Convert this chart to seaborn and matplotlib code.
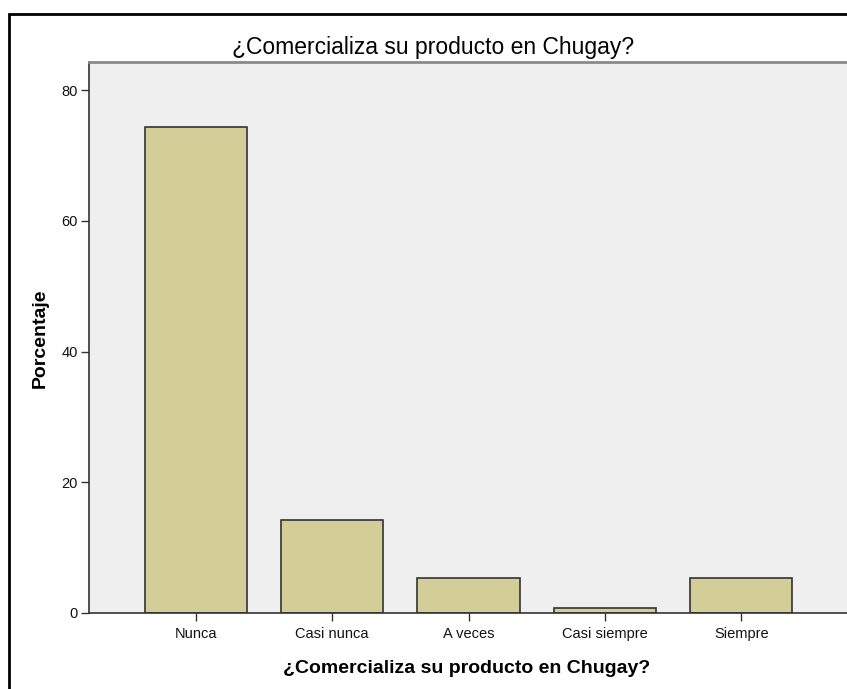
import pandas as pd
import matplotlib
matplotlib.use("Agg")
import matplotlib.pyplot as plt
import matplotlib.patches as mpatches
import seaborn as sns

# datos (porcentaje, n=133)
categorias = ["Nunca", "Casi nunca", "A veces", "Casi siempre", "Siempre"]
porcentajes = [74.4, 14.3, 5.3, 0.8, 5.3]
titulo = "¿Comercializa su producto en Chugay?"

df = pd.DataFrame({"categoria": categorias, "porcentaje": porcentajes})

sns.set_style("white")
plt.rcParams["font.family"] = ["Liberation Sans", "DejaVu Sans"]

W, H = 847, 689
fig = plt.figure(figsize=(W / 100, H / 100), dpi=100)
ax = fig.add_axes([89 / W, 1 - 613 / H, (849 - 89) / W, (613 - 62) / H])
ax.set_facecolor("#EFEFEF")

sns.barplot(data=df, x="categoria", y="porcentaje", order=categorias,
            color="#D3CE97", saturation=1, width=0.75,
            edgecolor="#333333", linewidth=1.2, ax=ax)

ax.set_xlim(-0.784, 4.79)
ax.set_ylim(0, 84.3)
ax.set_yticks([0, 20, 40, 60, 80])
ax.set_xlabel("")
ax.set_ylabel("")
ax.tick_params(axis="both", direction="out", length=6, width=1,
               color="#333333", labelsize=10.5, labelcolor="#111111",
               bottom=True, left=True, pad=2)
ax.tick_params(axis="x", pad=4)

for lado in ["left", "bottom"]:
    ax.spines[lado].set_color("#333333")
    ax.spines[lado].set_linewidth(1.2)
ax.spines["top"].set_color("#8A8A8A")
ax.spines["top"].set_linewidth(2)
ax.spines["right"].set_visible(False)

fig.text(433 / W, 1 - 54 / H, titulo, ha="center", va="baseline",
         fontsize=16.5, color="black")
fig.text(467 / W, 1 - 673 / H, titulo, ha="center", va="baseline",
         fontsize=14, fontweight="bold", color="black")
fig.text(40 / W, 1 - 338 / H, "Porcentaje", ha="center", va="center",
         rotation=90, fontsize=14, fontweight="bold", color="black")

# marco exterior
marco = mpatches.Rectangle((9 / W, -0.1), 1.2, 1.1 - 14 / H,
                           transform=fig.transFigure, fill=False,
                           edgecolor="black", linewidth=2, clip_on=False)
fig.patches.append(marco)

fig.savefig("out.png", dpi=100)
